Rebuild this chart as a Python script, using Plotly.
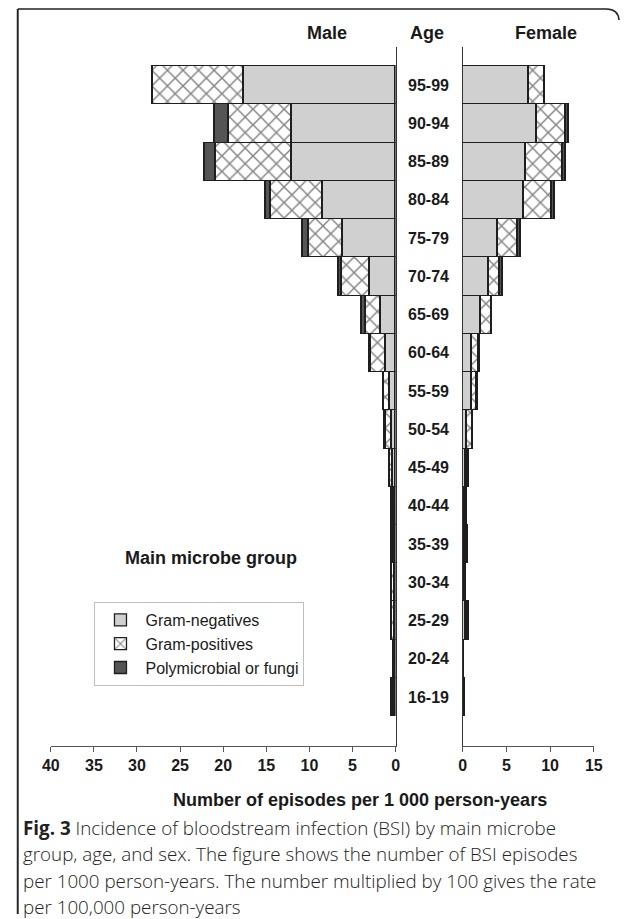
import plotly.graph_objects as go

W, H = 629, 919

ages = ["16-19", "20-24", "25-29", "30-34", "35-39", "40-44", "45-49", "50-54",
        "55-59", "60-64", "65-69", "70-74", "75-79", "80-84", "85-89", "90-94", "95-99"]

male_gram_neg = [0.15, 0.10, 0.15, 0.15, 0.15, 0.20, 0.30, 0.50, 0.70, 1.20, 1.70, 3.05, 6.15, 8.50, 12.10, 12.00, 17.60]
male_gram_pos = [0.10, 0.05, 0.25, 0.25, 0.20, 0.25, 0.35, 0.70, 0.65, 1.65, 1.80, 3.25, 3.95, 5.95, 8.80, 7.35, 10.60]
male_poly = [0.15, 0.05, 0.05, 0.05, 0.05, 0.05, 0.05, 0.05, 0.05, 0.10, 0.40, 0.30, 0.70, 0.65, 1.20, 1.57, 0.00]

female_gram_neg = [0.05, 0.05, 0.35, 0.10, 0.15, 0.25, 0.35, 0.50, 1.05, 1.00, 2.10, 2.95, 3.95, 7.00, 7.15, 8.50, 7.60]
female_gram_pos = [0.05, 0.03, 0.25, 0.15, 0.15, 0.20, 0.25, 0.60, 0.60, 0.85, 1.20, 1.25, 2.35, 3.20, 4.25, 3.30, 1.80]
female_poly = [0.10, 0.05, 0.05, 0.10, 0.30, 0.05, 0.05, 0.00, 0.05, 0.05, 0.05, 0.35, 0.30, 0.30, 0.40, 0.30, 0.00]

series_names = ["Gram-negatives", "Gram-positives", "Polymicrobial or fungi"]
x_ticks_male = [40, 35, 30, 25, 20, 15, 10, 5, 0]
x_ticks_female = [0, 5, 10, 15]

FONT = "Liberation Sans, Arial, sans-serif"
LINE = dict(color="#1e1e1e", width=1.3)

fig = go.Figure()

styles = [
    dict(color="#d0d0d0"),
    dict(color="white", pattern=dict(shape="x", fgcolor="#0a0a0a", bgcolor="white", size=11, solidity=0.25)),
    dict(color="#555555"),
]

male_vals = [male_gram_neg, male_gram_pos, male_poly]
female_vals = [female_gram_neg, female_gram_pos, female_poly]

for name, st, mv in zip(series_names, styles, male_vals):
    fig.add_trace(go.Bar(y=ages, x=mv, orientation="h", name=name, legendgroup=name,
                         marker=dict(line=LINE, **st), xaxis="x", yaxis="y",
                         showlegend=True, hoverinfo="x+y+name"))
for name, st, fv in zip(series_names, styles, female_vals):
    fig.add_trace(go.Bar(y=ages, x=fv, orientation="h", name=name, legendgroup=name,
                         marker=dict(line=LINE, **st), xaxis="x2", yaxis="y2",
                         showlegend=False, hoverinfo="x+y+name"))

def px(x):
    return x / W

def py(y):
    return 1 - y / H

ydom = [py(746), py(47)]
yrange = [-1.28, 17.0]

axis_common = dict(showgrid=False, zeroline=False, ticks="outside", ticklen=5,
                   tickcolor="#555555", showline=True, linecolor="#555555", linewidth=1.2,
                   tickfont=dict(family=FONT, size=16, color="#1a1a1a", weight="bold"),
                   fixedrange=True)

fig.update_layout(
    width=W, height=H,
    margin=dict(l=0, r=0, t=0, b=0),
    paper_bgcolor="white", plot_bgcolor="white",
    barmode="stack", bargap=0,
    font=dict(family=FONT, color="#1a1a1a"),
    xaxis=dict(domain=[px(43), px(398)], range=[40, 0], tickvals=x_ticks_male,
               anchor="y", **axis_common),
    xaxis2=dict(domain=[px(467), px(602)], range=[0, 15], tickvals=x_ticks_female,
                anchor="y2", **axis_common),
    yaxis=dict(domain=ydom, range=yrange, side="right", anchor="x", showgrid=False,
               zeroline=False, showline=True, linecolor="#333333", linewidth=1.3,
               showticklabels=False, ticks="", categoryorder="array", categoryarray=ages,
               fixedrange=True),
    yaxis2=dict(domain=ydom, range=yrange, side="left", anchor="x2", showgrid=False,
                zeroline=False, showline=True, linecolor="#333333", linewidth=1.3,
                showticklabels=False, ticks="", categoryorder="array", categoryarray=ages,
                fixedrange=True),
    legend=dict(x=px(88), y=py(602), xanchor="left", yanchor="top",
                bordercolor="#bdbdbd", borderwidth=1, bgcolor="white",
                font=dict(family=FONT, size=16, color="#1a1a1a"),
                traceorder="normal", tracegroupgap=0, itemwidth=40),
    showlegend=True,
)

ann = []
for a in ages:
    ann.append(dict(x=px(432), y=a, xref="paper", yref="y", text=a, showarrow=False,
                    font=dict(family=FONT, size=16, color="#1a1a1a", weight="bold"),
                    xanchor="center", yanchor="middle"))

def txt(x, y, s, size, weight="bold", anchor="center", family=FONT):
    ann.append(dict(x=px(x), y=py(y), xref="paper", yref="paper", text=s, showarrow=False,
                    font=dict(family=family, size=size, color="#1a1a1a", weight=weight),
                    xanchor=anchor, yanchor="middle"))

txt(327, 33, "Male", 18)
txt(430, 33, "Age", 18)
txt(553, 33, "Female", 18)
txt(208, 558, "Main microbe group", 18)
txt(361, 800, "Number of episodes per 1 000 person-years", 18)

CAP = "Open Sans, Lato, sans-serif"
cap_lines = [
    "<b>Fig. 3</b> Incidence of bloodstream infection (BSI) by main microbe",
    "group, age, and sex. The figure shows the number of BSI episodes",
    "per 1000 person-years. The number multiplied by 100 gives the rate",
    "per 100,000 person-years",
]
for i, line in enumerate(cap_lines):
    ann.append(dict(x=px(12), y=py(828 + i * 26.3), xref="paper", yref="paper", text=line,
                    showarrow=False, xanchor="left", yanchor="middle",
                    font=dict(family=CAP, size=18.8, color="#222222", weight=300)))

fig.update_layout(annotations=ann)

# caption frame: left rule, top rule with rounded top-right corner
fig.add_shape(type="rect", xref="paper", yref="paper",
              x0=px(8), x1=px(10), y0=py(914), y1=py(9),
              line=dict(width=0), fillcolor="#222222", layer="above")
border = (f"M {px(9)},{py(9)} L {px(615)},{py(9)} "
          f"Q {px(627)},{py(9)} {px(628)},{py(20)}")
fig.add_shape(type="path", path=border, xref="paper", yref="paper",
              line=dict(color="#222222", width=1.6))

fig.write_html("out.html", config={"displayModeBar": False},
               post_script="document.body.style.margin='0';document.body.style.overflow='hidden';")
